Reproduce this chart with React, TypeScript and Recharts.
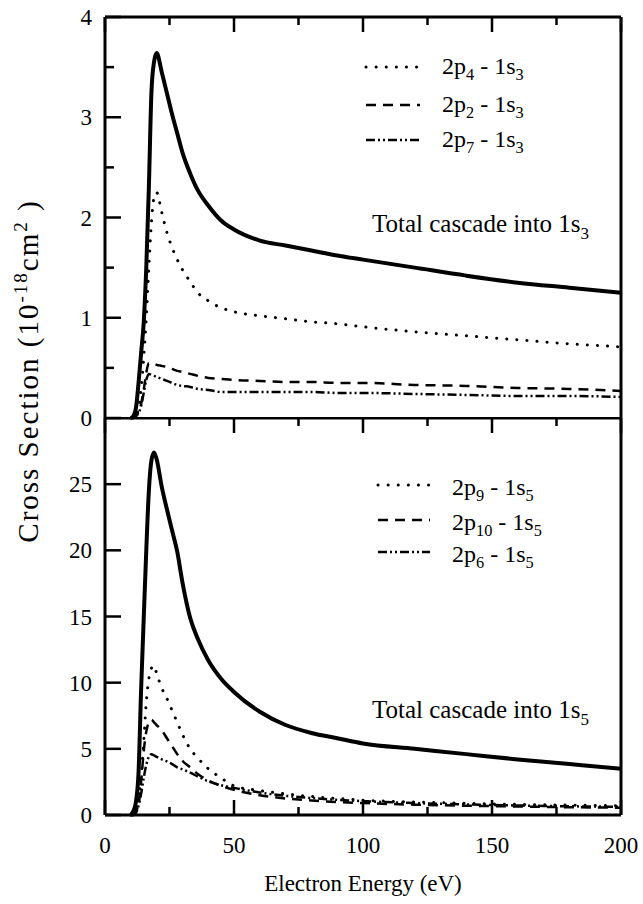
import { Line, LineChart, XAxis, YAxis } from 'recharts'

// electron energy grid (eV) shared by all curves
const ENERGY = [10, 11, 12, 13, 14, 15, 16, 17, 18, 19, 20, 22, 24, 26, 28, 30, 33, 36, 40, 45, 50, 60, 70, 80, 90, 100, 120, 140, 160, 180, 200]

// upper panel: cascade into 1s3 (1e-18 cm^2)
const TOTAL_1S3 = [0, 0.02, 0.1, 0.35, 0.65, 0.95, 1.5, 2.3, 3.25, 3.55, 3.64, 3.45, 3.24, 3.03, 2.84, 2.65, 2.44, 2.27, 2.12, 1.97, 1.88, 1.77, 1.72, 1.67, 1.62, 1.58, 1.5, 1.42, 1.35, 1.3, 1.25]
const P4_1S3 = [0, 0, 0.02, 0.1, 0.3, 0.6, 1.0, 1.5, 1.95, 2.2, 2.25, 2.05, 1.85, 1.7, 1.58, 1.48, 1.36, 1.25, 1.17, 1.1, 1.06, 1.02, 0.99, 0.96, 0.94, 0.91, 0.86, 0.82, 0.78, 0.74, 0.71]
const P2_1S3 = [0, 0, 0.02, 0.06, 0.14, 0.28, 0.45, 0.55, 0.55, 0.54, 0.53, 0.52, 0.51, 0.49, 0.47, 0.46, 0.44, 0.42, 0.4, 0.39, 0.38, 0.37, 0.36, 0.36, 0.35, 0.35, 0.33, 0.32, 0.3, 0.29, 0.27]
const P7_1S3 = [0, 0, 0.02, 0.05, 0.12, 0.25, 0.38, 0.44, 0.43, 0.42, 0.41, 0.39, 0.37, 0.35, 0.33, 0.32, 0.31, 0.29, 0.28, 0.26, 0.26, 0.26, 0.26, 0.26, 0.25, 0.25, 0.24, 0.23, 0.22, 0.22, 0.21]

// lower panel: cascade into 1s5
const TOTAL_1S5 = [0, 0.3, 1.0, 3.2, 9.5, 14.8, 20.0, 24.5, 26.8, 27.4, 26.9, 24.8, 23.1, 21.5, 19.9, 17.6, 14.9, 13.3, 11.7, 10.3, 9.3, 7.8, 6.8, 6.2, 5.8, 5.4, 5.0, 4.6, 4.2, 3.85, 3.5]
const P9_1S5 = [0, 0, 0.3, 1.0, 2.8, 5.5, 8.5, 10.3, 11.1, 11.3, 10.7, 9.6, 8.8, 7.9, 7.0, 6.1, 5.0, 4.3, 3.5, 2.8, 2.2, 1.85, 1.6, 1.4, 1.25, 1.12, 0.98, 0.88, 0.8, 0.75, 0.7]
const P10_1S5 = [0, 0, 0.2, 0.8, 2.5, 4.8, 6.3, 7.0, 7.2, 7.0, 6.8, 6.4, 5.8, 5.2, 4.6, 4.1, 3.6, 3.1, 2.6, 2.2, 1.9, 1.5, 1.25, 1.1, 0.98, 0.9, 0.78, 0.7, 0.64, 0.59, 0.55]
const P6_1S5 = [0, 0, 0.2, 0.7, 1.6, 2.8, 3.8, 4.4, 4.6, 4.5, 4.4, 4.2, 4.05, 3.85, 3.6, 3.45, 3.2, 2.9, 2.55, 2.25, 2.05, 1.7, 1.45, 1.28, 1.15, 1.05, 0.9, 0.8, 0.72, 0.66, 0.62]

const X_TICKS = [0, 25, 50, 75, 100, 125, 150, 175, 200]
const Y_TICKS_1S3 = [0, 0.5, 1, 1.5, 2, 2.5, 3, 3.5, 4]
const Y_TICKS_1S5 = [0, 5, 10, 15, 20, 25]

const LEGEND_1S3 = ['2p_4 - 1s_3', '2p_2 - 1s_3', '2p_7 - 1s_3']
const LEGEND_1S5 = ['2p_9 - 1s_5', '2p_10 - 1s_5', '2p_6 - 1s_5']

const SERIF = 'Liberation Serif'
const TXT = { fontFamily: SERIF }
const DOTTED = { strokeDasharray: '0.1 10', strokeLinecap: 'round' as const, strokeWidth: 3 }
const DASHED = { strokeDasharray: '10 7', strokeWidth: 2.5 }
const DASHDOT = { strokeDasharray: '9 3 2 3 2 3', strokeWidth: 2.5 }
const STYLES = [DOTTED, DASHED, DASHDOT]

const topData = ENERGY.map((e, i) => ({ e, total: TOTAL_1S3[i], a: P4_1S3[i], b: P2_1S3[i], c: P7_1S3[i] }))
const bottomData = ENERGY.map((e, i) => ({ e, total: TOTAL_1S5[i], a: P9_1S5[i], b: P10_1S5[i], c: P6_1S5[i] }))

const axisLine = { stroke: '#000', strokeWidth: 3 }

// ticks point into the plot, labels sit outside
const leftTick = (major: (v: number) => boolean) => (p: any) => {
  const v = p.payload.value
  const m = major(v)
  return (
    <g>
      <line x1={p.x} y1={p.y} x2={p.x + (m ? 16 : 9)} y2={p.y} stroke="#000" strokeWidth={2.5} />
      {m && (
        <text x={p.x - 13} y={p.y} dy={8} textAnchor="end" fontSize={23} fontFamily={SERIF} style={TXT} fill="#000">
          {v}
        </text>
      )}
    </g>
  )
}

const rightTick = (major: (v: number) => boolean) => (p: any) => (
  <line x1={p.x} y1={p.y} x2={p.x - (major(p.payload.value) ? 16 : 9)} y2={p.y} stroke="#000" strokeWidth={2.5} />
)

const topTick = (p: any) => (
  <line x1={p.x} y1={p.y} x2={p.x} y2={p.y + (p.payload.value % 50 === 0 ? 15 : 8)} stroke="#000" strokeWidth={2.5} />
)

const bottomTick = (p: any) => {
  const v = p.payload.value
  const m = v % 50 === 0
  return (
    <g>
      <line x1={p.x} y1={p.y} x2={p.x} y2={p.y - (m ? 15 : 8)} stroke="#000" strokeWidth={2.5} />
      {m && (
        <text x={p.x} y={p.y + 38} textAnchor="middle" fontSize={23} fontFamily={SERIF} style={TXT} fill="#000">
          {v}
        </text>
      )}
    </g>
  )
}

function Label({ x, y, text, size = 24 }: { x: number; y: number; text: string; size?: number }) {
  const parts = text.split(/_(\d+)/)
  const d = Math.round(size * 0.27)
  return (
    <text x={x} y={y} fontSize={size} fontFamily={SERIF} style={TXT} fill="#000">
      {parts.map((s, i) =>
        i % 2 === 1 ? (
          <tspan key={i} dy={d} fontSize={size * 0.68}>
            {s}
          </tspan>
        ) : (
          <tspan key={i} dy={i === 0 ? 0 : -d}>
            {s}
          </tspan>
        ),
      )}
    </text>
  )
}

function Panel({ data, domain, yTicks, major, height, bottom }: any) {
  return (
    <LineChart
      width={643}
      height={height}
      data={data}
      margin={{ top: bottom ? 0 : 16, right: 21, bottom: bottom ? 0 : 12, left: 45 }}
    >
      <XAxis
        xAxisId="top"
        orientation="top"
        type="number"
        dataKey="e"
        domain={[0, 200]}
        ticks={X_TICKS}
        interval={0}
        height={1}
        tickSize={0}
        tickMargin={0}
        tickLine={false}
        axisLine={axisLine}
        tick={topTick}
      />
      {bottom && (
        <XAxis
          xAxisId="bottom"
          orientation="bottom"
          type="number"
          dataKey="e"
          domain={[0, 200]}
          ticks={X_TICKS}
          interval={0}
          height={89}
          tickSize={0}
          tickMargin={0}
          tickLine={false}
          axisLine={axisLine}
          tick={bottomTick}
        />
      )}
      <YAxis
        yAxisId="left"
        type="number"
        domain={domain}
        ticks={yTicks}
        interval={0}
        width={60}
        tickSize={0}
        tickMargin={0}
        tickLine={false}
        axisLine={axisLine}
        tick={leftTick(major)}
      />
      <YAxis
        yAxisId="right"
        orientation="right"
        type="number"
        domain={domain}
        ticks={yTicks}
        interval={0}
        width={1}
        tickSize={0}
        tickMargin={0}
        tickLine={false}
        axisLine={axisLine}
        tick={rightTick(major)}
      />
      {['a', 'b', 'c'].map((k, i) => (
        <Line
          key={k}
          xAxisId="top"
          yAxisId="left"
          type="monotone"
          dataKey={k}
          stroke="#000"
          dot={false}
          isAnimationActive={false}
          {...STYLES[i]}
        />
      ))}
      <Line
        xAxisId="top"
        yAxisId="left"
        type="monotone"
        dataKey="total"
        stroke="#000"
        strokeWidth={4}
        dot={false}
        isAnimationActive={false}
      />
    </LineChart>
  )
}

function LegendRows({ labels, x0, x1, tx, lineY, textY }: any) {
  return (
    <g>
      {labels.map((l: string, i: number) => (
        <g key={l}>
          <line x1={x0} x2={x1} y1={lineY[i]} y2={lineY[i]} stroke="#000" {...STYLES[i]} />
          <Label x={tx} y={textY[i]} text={l} />
        </g>
      ))}
    </g>
  )
}

export default function App() {
  return (
    <div style={{ position: 'absolute', left: 0, top: 0, width: 643, height: 904, background: '#fff', ...TXT }}>
      <style>{`svg text, svg tspan { font-family: 'Liberation Serif', 'Times New Roman', serif !important; }`}</style>
      <div style={{ position: 'absolute', left: 0, top: 0 }}>
        <Panel data={topData} domain={[0, 4]} yTicks={Y_TICKS_1S3} major={(v: number) => Number.isInteger(v)} height={430} />
      </div>
      <div style={{ position: 'absolute', left: 0, top: 417 }}>
        <Panel data={bottomData} domain={[0, 30]} yTicks={Y_TICKS_1S5} major={() => true} height={487} bottom />
      </div>
      <svg width={643} height={904} style={{ position: 'absolute', left: 0, top: 0, pointerEvents: 'none' }}>
        <LegendRows labels={LEGEND_1S3} x0={366} x1={420} tx={442} lineY={[67, 105, 140]} textY={[74, 112, 147]} />
        <LegendRows labels={LEGEND_1S5} x0={378} x1={430} tx={452} lineY={[485, 520, 552]} textY={[495, 530, 562]} />
        <Label x={372} y={232} text="Total cascade into 1s_3" size={25} />
        <Label x={372} y={718} text="Total cascade into 1s_5" size={25} />
        <text x={363} y={891} textAnchor="middle" fontSize={23} fontFamily={SERIF} style={TXT} fill="#000">
          Electron Energy (eV)
        </text>
        <text
          transform="translate(38,371) rotate(-90)"
          textAnchor="middle"
          fontSize={29}
          letterSpacing={2}
          fontFamily={SERIF}
          style={TXT}
          fill="#000"
        >
          Cross Section (10
          <tspan dy={-11} fontSize={19}>-18</tspan>
          <tspan dy={11}>cm</tspan>
          <tspan dy={-11} fontSize={19}>2</tspan>
          <tspan dy={11}> )</tspan>
        </text>
      </svg>
    </div>
  )
}
